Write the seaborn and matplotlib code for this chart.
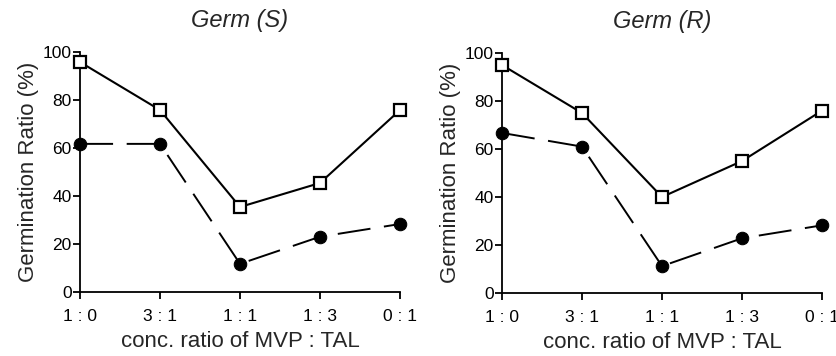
import pandas as pd
import numpy as np
import matplotlib
matplotlib.use('Agg')
import matplotlib.pyplot as plt
import seaborn as sns

# data
ratios = ['1 : 0', '3 : 1', '1 : 1', '1 : 3', '0 : 1']
germ_s_open = [95.8, 75.8, 35.4, 45.4, 75.8]
germ_s_filled = [61.7, 61.7, 11.7, 23.0, 28.3]
germ_r_open = [95.0, 75.0, 40.0, 55.0, 76.0]
germ_r_filled = [66.7, 61.0, 11.2, 22.8, 28.2]
titles = ['Germ (S)', 'Germ (R)']

sns.set_style('ticks')
plt.rcParams['font.family'] = ['Liberation Sans', 'DejaVu Sans']

fig = plt.figure(figsize=(8.37, 3.56), dpi=100)
ax1 = fig.add_axes([0.0956, 0.18, 0.3823, 0.674])
ax2 = fig.add_axes([0.5998, 0.177, 0.3823, 0.674])

panels = [(ax1, germ_s_open, germ_s_filled, titles[0]),
          (ax2, germ_r_open, germ_r_filled, titles[1])]

for ax, opn, fil, title in panels:
    df = pd.DataFrame({'pos': np.arange(len(ratios)), 'open': opn, 'filled': fil})
    sns.lineplot(data=df, x='pos', y='filled', ax=ax, color='black', lw=1.4,
                 marker='o', markersize=9, markerfacecolor='black',
                 markeredgecolor='black', dashes=False, clip_on=False, zorder=3)
    ax.lines[-1].set_dashes([17, 7])
    sns.lineplot(data=df, x='pos', y='open', ax=ax, color='black', lw=1.5,
                 marker='s', markersize=8, markerfacecolor='white',
                 markeredgecolor='black', markeredgewidth=1.6, clip_on=False, zorder=4)
    ax.set_xlim(0, 4)
    ax.set_ylim(0, 100)
    ax.set_xticks(range(len(ratios)))
    ax.set_xticklabels(ratios)
    ax.set_yticks([0, 20, 40, 60, 80, 100])
    sns.despine(ax=ax)
    for s in ['left', 'bottom']:
        ax.spines[s].set_linewidth(1.3)
        ax.spines[s].set_color('black')
    ax.tick_params(axis='both', direction='out', length=5, width=1.3, color='black',
                   labelsize=12.5, labelcolor='black')
    ax.tick_params(axis='y', pad=1)
    ax.tick_params(axis='x', pad=7)
    ax.set_xlabel('conc. ratio of MVP : TAL', fontsize=16, labelpad=5)
    ax.set_ylabel('Germination Ratio (%)', fontsize=16, labelpad=3)
    ax.set_title(title, fontsize=17, style='italic', pad=18)

fig.savefig('out.png', dpi=100)
